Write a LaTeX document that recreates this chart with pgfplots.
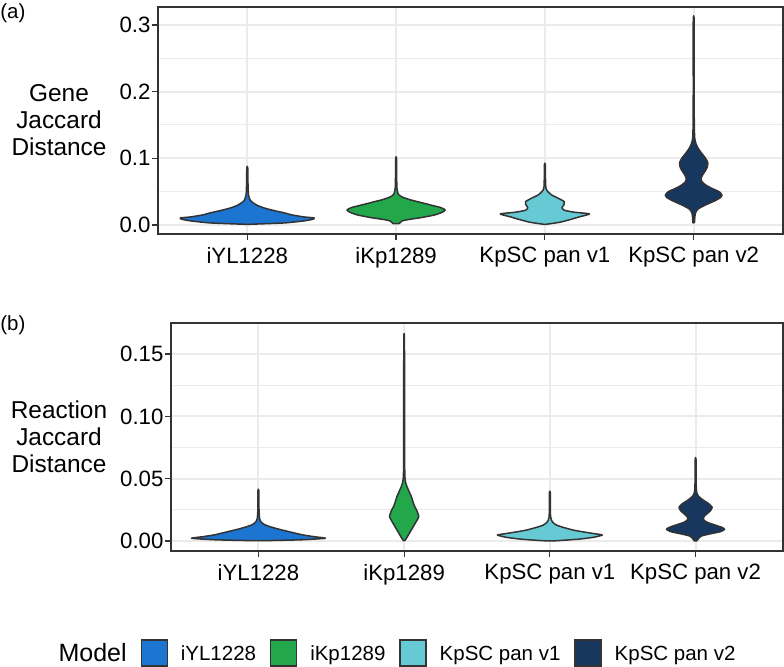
\documentclass[border=0pt]{standalone}
\usepackage{fontspec}
\setmainfont{Liberation Sans}
\usepackage{pgfplots}
\usepackage{pgfplotstable}
\pgfplotsset{compat=1.18}

\definecolor{cA}{HTML}{1C75D0}
\definecolor{cB}{HTML}{22A84B}
\definecolor{cC}{HTML}{66CAD4}
\definecolor{cD}{HTML}{17375E}
\definecolor{gray20}{HTML}{333333}
\definecolor{gridgray}{HTML}{EBEBEB}

% Violin outlines: y value and signed half width s (category units);
% right side upward, then left side downward.
% ---------- Panel (a): Gene Jaccard distance
\pgfplotstableread{
y s
0.0010 0.02
0.0030 0.25
0.0060 0.38
0.0085 0.44
0.0105 0.45
0.0120 0.38
0.0150 0.30
0.0180 0.25
0.0210 0.19
0.0250 0.12
0.0290 0.07
0.0330 0.04
0.0370 0.02
0.0450 0.008
0.0600 0.005
0.0860 0.003
0.0860 -0.003
0.0600 -0.005
0.0450 -0.008
0.0370 -0.02
0.0330 -0.04
0.0290 -0.07
0.0250 -0.12
0.0210 -0.19
0.0180 -0.25
0.0150 -0.30
0.0120 -0.38
0.0105 -0.45
0.0085 -0.44
0.0060 -0.38
0.0030 -0.25
0.0010 -0.02
0.0010 0.02
}\GA
\pgfplotstableread{
y s
0.0020 0.02
0.0040 0.03
0.0060 0.04
0.0080 0.08
0.0110 0.17
0.0150 0.26
0.0190 0.31
0.0225 0.33
0.0260 0.30
0.0300 0.23
0.0340 0.16
0.0380 0.09
0.0420 0.04
0.0460 0.015
0.0550 0.006
0.0700 0.004
0.1000 0.003
0.1000 -0.003
0.0700 -0.004
0.0550 -0.006
0.0460 -0.015
0.0420 -0.04
0.0380 -0.09
0.0340 -0.16
0.0300 -0.23
0.0260 -0.30
0.0225 -0.33
0.0190 -0.31
0.0150 -0.26
0.0110 -0.17
0.0080 -0.08
0.0060 -0.04
0.0040 -0.03
0.0020 -0.02
0.0020 0.02
}\GB
\pgfplotstableread{
y s
0.0010 0.01
0.0040 0.10
0.0080 0.17
0.0120 0.23
0.0165 0.30
0.0190 0.20
0.0220 0.13
0.0260 0.115
0.0310 0.13
0.0350 0.13
0.0400 0.09
0.0450 0.045
0.0500 0.02
0.0550 0.007
0.0700 0.004
0.0910 0.003
0.0910 -0.003
0.0700 -0.004
0.0550 -0.007
0.0500 -0.02
0.0450 -0.045
0.0400 -0.09
0.0350 -0.13
0.0310 -0.13
0.0260 -0.115
0.0220 -0.13
0.0190 -0.20
0.0165 -0.30
0.0120 -0.23
0.0080 -0.17
0.0040 -0.10
0.0010 -0.01
0.0010 0.01
}\GC
\pgfplotstableread{
y s
0.0030 0.005
0.0100 0.007
0.0180 0.012
0.0240 0.03
0.0300 0.08
0.0360 0.14
0.0410 0.18
0.0450 0.19
0.0500 0.17
0.0550 0.12
0.0600 0.08
0.0650 0.055
0.0700 0.05
0.0750 0.06
0.0800 0.075
0.0860 0.09
0.0930 0.095
0.1000 0.08
0.1070 0.055
0.1150 0.03
0.1220 0.015
0.1300 0.007
0.1500 0.004
0.2000 0.003
0.3060 0.003
0.3060 -0.003
0.2000 -0.003
0.1500 -0.004
0.1300 -0.007
0.1220 -0.015
0.1150 -0.03
0.1070 -0.055
0.1000 -0.08
0.0930 -0.095
0.0860 -0.09
0.0800 -0.075
0.0750 -0.06
0.0700 -0.05
0.0650 -0.055
0.0600 -0.08
0.0550 -0.12
0.0500 -0.17
0.0450 -0.19
0.0410 -0.18
0.0360 -0.14
0.0300 -0.08
0.0240 -0.03
0.0180 -0.012
0.0100 -0.007
0.0030 -0.005
0.0030 0.005
}\GD

% ---------- Panel (b): Reaction Jaccard distance
\pgfplotstableread{
y s
0.0003 0.05
0.0010 0.30
0.0022 0.46
0.0035 0.38
0.0050 0.30
0.0075 0.21
0.0095 0.14
0.0115 0.08
0.0130 0.045
0.0150 0.02
0.0180 0.008
0.0250 0.004
0.0405 0.003
0.0405 -0.003
0.0250 -0.004
0.0180 -0.008
0.0150 -0.02
0.0130 -0.045
0.0115 -0.08
0.0095 -0.14
0.0075 -0.21
0.0050 -0.30
0.0035 -0.38
0.0022 -0.46
0.0010 -0.30
0.0003 -0.05
0.0003 0.05
}\RA
\pgfplotstableread{
y s
0.0003 0.005
0.0030 0.02
0.0060 0.035
0.0100 0.055
0.0140 0.075
0.0170 0.09
0.0195 0.10
0.0220 0.095
0.0250 0.085
0.0275 0.073
0.0310 0.062
0.0355 0.05
0.0400 0.033
0.0435 0.02
0.0470 0.01
0.0520 0.005
0.0600 0.004
0.0900 0.003
0.1250 0.004
0.1300 0.003
0.1640 0.002
0.1640 -0.002
0.1300 -0.003
0.1250 -0.004
0.0900 -0.003
0.0600 -0.004
0.0520 -0.005
0.0470 -0.01
0.0435 -0.02
0.0400 -0.033
0.0355 -0.05
0.0310 -0.062
0.0275 -0.073
0.0250 -0.085
0.0220 -0.095
0.0195 -0.10
0.0170 -0.09
0.0140 -0.075
0.0100 -0.055
0.0060 -0.035
0.0030 -0.02
0.0003 -0.005
0.0003 0.005
}\RB
\pgfplotstableread{
y s
0.0002 0.04
0.0015 0.20
0.0030 0.30
0.0048 0.36
0.0060 0.30
0.0075 0.22
0.0088 0.16
0.0110 0.09
0.0128 0.045
0.0150 0.02
0.0170 0.01
0.0200 0.005
0.0250 0.003
0.0390 0.003
0.0390 -0.003
0.0250 -0.003
0.0200 -0.005
0.0170 -0.01
0.0150 -0.02
0.0128 -0.045
0.0110 -0.09
0.0088 -0.16
0.0075 -0.22
0.0060 -0.30
0.0048 -0.36
0.0030 -0.30
0.0015 -0.20
0.0002 -0.04
0.0002 0.04
}\RC
\pgfplotstableread{
y s
0.0002 0.01
0.0020 0.02
0.0040 0.04
0.0055 0.09
0.0075 0.17
0.0094 0.20
0.0110 0.18
0.0130 0.13
0.0150 0.08
0.0170 0.055
0.0190 0.055
0.0210 0.07
0.0240 0.10
0.0270 0.114
0.0300 0.09
0.0330 0.05
0.0360 0.02
0.0390 0.008
0.0450 0.004
0.0655 0.003
0.0655 -0.003
0.0450 -0.004
0.0390 -0.008
0.0360 -0.02
0.0330 -0.05
0.0300 -0.09
0.0270 -0.114
0.0240 -0.10
0.0210 -0.07
0.0190 -0.055
0.0170 -0.055
0.0150 -0.08
0.0130 -0.13
0.0110 -0.18
0.0094 -0.20
0.0075 -0.17
0.0055 -0.09
0.0040 -0.04
0.0020 -0.02
0.0002 -0.01
0.0002 0.01
}\RD

\pgfplotsset{
  panel/.style={
    scale only axis,
    xmin=0.4, xmax=4.6,
    xtick={1,2,3,4},
    xticklabels={iYL1228,iKp1289,KpSC pan v1,KpSC pan v2},
    xtick pos=left, ytick pos=left,
    tick align=outside,
    major tick length=3pt,
    minor tick length=0pt,
    tick style={color=gray20, line width=0.6pt},
    axis line style={color=gray20, line width=0.6pt},
    grid=both,
    major grid style={color=gridgray, line width=1pt},
    minor grid style={color=gridgray, line width=0.55pt},
    minor y tick num=1,
    minor x tick num=0,
    tick label style={font=\fontsize{11.1}{13}\selectfont, text=black},
    yticklabel style={inner sep=0.6pt},
    /pgf/number format/assume math mode=true,
    every axis y label/.style={at={(axis description cs:0,0.5)}, anchor=center,
      align=center, font=\fontsize{12.2}{13.5}\selectfont},
  },
  violin/.style={draw=gray20, line width=0.75pt, line join=round, mark=none,
    smooth, tension=0.35, forget plot},
}

\begin{document}
\begin{tikzpicture}
\useasboundingbox (0pt,0pt) rectangle (392pt,-333.5pt);

\node[anchor=west, inner sep=0pt, font=\fontsize{10.25}{12}\selectfont] at (0pt,-6.4pt) {(a)};
\node[anchor=west, inner sep=0pt, font=\fontsize{10.25}{12}\selectfont] at (0pt,-162.5pt) {(b)};

\begin{axis}[panel,
  at={(79pt,-3.5pt)}, anchor=north west,
  width=312.5pt, height=113.5pt,
  ymin=-0.0136, ymax=0.3269,
  ytick={0,0.1,0.2,0.3},
  yticklabels={0.0,0.1,0.2,0.3},
  ylabel={Gene\\Jaccard\\Distance},
  ylabel style={xshift=-49.5pt},
]
\addplot[violin, fill=cA] table[x expr=1+\thisrow{s}, y=y]{\GA};
\addplot[violin, fill=cB] table[x expr=2+\thisrow{s}, y=y]{\GB};
\addplot[violin, fill=cC] table[x expr=3+\thisrow{s}, y=y]{\GC};
\addplot[violin, fill=cD] table[x expr=4+\thisrow{s}, y=y]{\GD};
\end{axis}

\begin{axis}[panel,
  at={(85.5pt,-161.5pt)}, anchor=north west,
  width=306pt, height=114pt,
  ymin=-0.0080, ymax=0.1749,
  ytick={0,0.05,0.1,0.15},
  yticklabels={0.00,0.05,0.10,0.15},
  ylabel={Reaction\\Jaccard\\Distance},
  ylabel style={xshift=-56pt},
  legend columns=-1,
  legend image code/.code={\draw[#1, draw=gray20, line width=0.6pt] (0pt,-6.5pt) rectangle (13pt,6.5pt);},
  legend style={draw=none, fill=none, inner sep=0pt,
    at={(axis description cs:0.3587,-0.4474)}, anchor=center,
    font=\fontsize{10.25}{12}\selectfont,
    nodes={inner sep=0pt, text height=0.716em, text depth=0pt},
    /tikz/every odd column/.append style={column sep=6.5pt},
    /tikz/every even column/.append style={column sep=7pt}},
]
\addplot[violin, fill=cA] table[x expr=1+\thisrow{s}, y=y]{\RA};
\addplot[violin, fill=cB] table[x expr=2+\thisrow{s}, y=y]{\RB};
\addplot[violin, fill=cC] table[x expr=3+\thisrow{s}, y=y]{\RC};
\addplot[violin, fill=cD] table[x expr=4+\thisrow{s}, y=y]{\RD};
\addlegendimage{empty legend}
\addlegendentry{\fontsize{12.5}{15}\selectfont\raisebox{-0.8pt}{Model}}
\addlegendimage{fill=cA}
\addlegendentry{iYL1228}
\addlegendimage{fill=cB}
\addlegendentry{iKp1289}
\addlegendimage{fill=cC}
\addlegendentry{KpSC pan v1}
\addlegendimage{fill=cD}
\addlegendentry{KpSC pan v2}
\end{axis}
\end{tikzpicture}
\end{document}
